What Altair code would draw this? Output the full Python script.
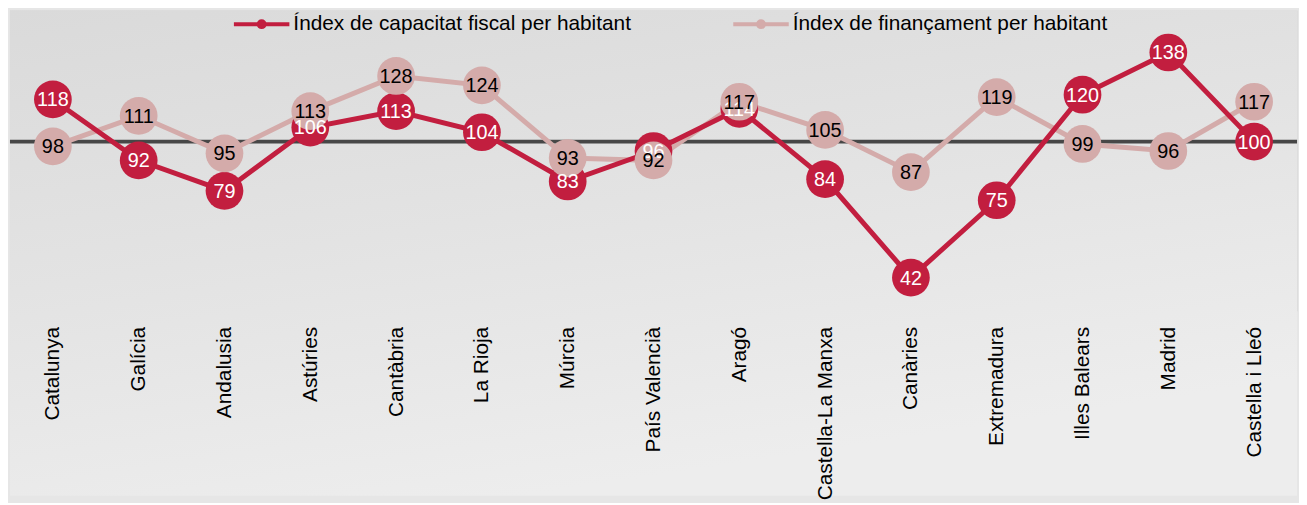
import altair as alt
import pandas as pd

regions = ["Catalunya", "Galícia", "Andalusia", "Astúries", "Cantàbria", "La Rioja",
           "Múrcia", "País Valencià", "Aragó", "Castella-La Manxa", "Canàries",
           "Extremadura", "Illes Balears", "Madrid", "Castella i Lleó"]
capacitat = [118, 92, 79, 106, 113, 104, 83, 96, 114, 84, 42, 75, 120, 138, 100]
financament = [98, 111, 95, 113, 128, 124, 93, 92, 117, 105, 87, 119, 99, 96, 117]
series = ["Índex de capacitat fiscal per habitant", "Índex de finançament per habitant"]
colors = ["#C21E3F", "#D4ABAA"]
text_colors = ["white", "black"]
baseline = [100]

FONT = "Liberation Sans, Arial, sans-serif"

df = pd.DataFrame({
    "regio": regions * 2,
    "valor": capacitat + financament,
    "serie": [series[0]] * len(regions) + [series[1]] * len(regions),
})

# line with a small dot, drawn wider than its layout slot
legend_path = "M-2.8,0L2.8,0M-0.3,0A0.3,0.3,0,1,1,0.3,0A0.3,0.3,0,1,1,-0.3,0Z"
legend = alt.Legend(
    title=None, orient="none", legendX=242, legendY=2, direction="horizontal",
    symbolType=legend_path, symbolSize=400, symbolStrokeWidth=4, symbolOpacity=1,
    labelFontSize=21, labelFont=FONT, labelColor="black", labelOffset=20,
    columnPadding=95, labelLimit=0, padding=0,
)

y_scale = alt.Scale(domain=[28, 156])
x_enc = alt.X("regio:N",
              scale=alt.Scale(type="point", domain=regions, padding=0.5),
              axis=alt.Axis(title=None, labelAngle=-90, labelFontSize=21, labelFont=FONT,
                            labelColor="black", domain=False, ticks=False, grid=False,
                            labelPadding=16, labelLimit=0, zindex=1))
y_enc = alt.Y("valor:Q", scale=y_scale, axis=None)
color_enc = alt.Color("serie:N", scale=alt.Scale(domain=series, range=colors), legend=legend)

bg = alt.Chart(pd.DataFrame({"a": [0]})).mark_rect(
    fill=alt.Gradient(gradient="linear", x1=0, y1=0, x2=0.4, y2=1,
                      stops=[alt.GradientStop(color="#DADADA", offset=0),
                             alt.GradientStop(color="#E3E3E3", offset=0.5),
                             alt.GradientStop(color="#EDEDED", offset=1)])
).encode(x=alt.value(0), x2=alt.value(1299), y=alt.value(0), y2=alt.value(490))

rule = alt.Chart(pd.DataFrame({"valor": baseline})).mark_rule(
    color="#474747", strokeWidth=4).encode(y=alt.Y("valor:Q", scale=y_scale, axis=None))

layers = [bg, rule]
for s in [series[1], series[0]]:
    layers.append(alt.Chart(df).transform_filter(alt.datum.serie == s)
                  .mark_line(strokeWidth=5).encode(x=x_enc, y=y_enc, color=color_enc))
for s in [series[0], series[1]]:
    layers.append(alt.Chart(df).transform_filter(alt.datum.serie == s)
                  .mark_circle(size=1450, opacity=1).encode(x=x_enc, y=y_enc, color=color_enc))
for s, tc in zip(series, text_colors):
    layers.append(
        alt.Chart(df).transform_filter(alt.datum.serie == s).mark_text(
            fontSize=20, font=FONT, color=tc, align="center", baseline="middle", dy=1
        ).encode(x=x_enc, y=y_enc, text=alt.Text("valor:Q"))
    )

chart = alt.layer(*layers).properties(
    width=1299, height=303, padding=0,
).configure_view(stroke=None).configure(background="#E6E6E6")

chart.save("out.html", embed_options={"renderer": "svg", "actions": False})
